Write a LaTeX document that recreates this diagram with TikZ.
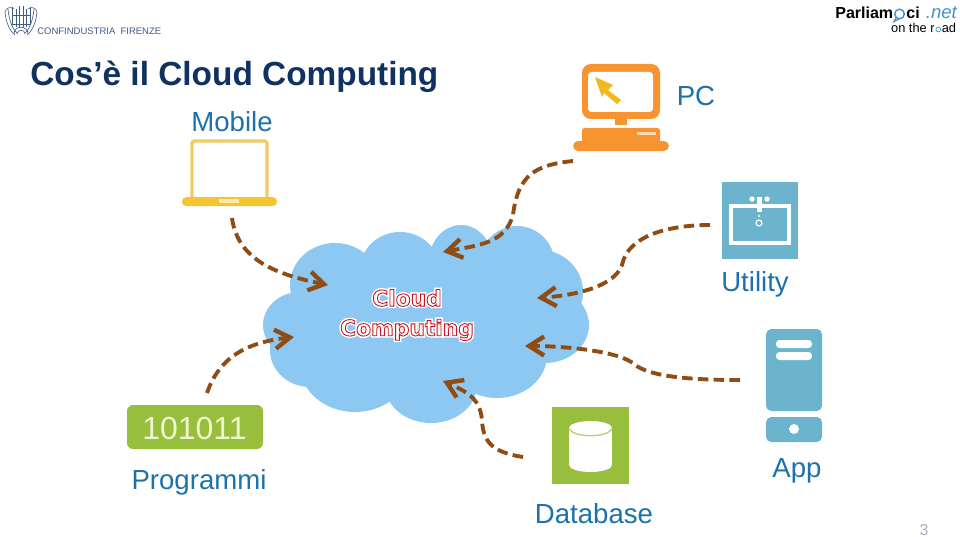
\documentclass[tikz,border=0pt]{standalone}
\usepackage{fontspec}
\setmainfont{Liberation Sans}
\usetikzlibrary{arrows.meta, positioning, calc}
\definecolor{navy}{HTML}{0F3263}
\definecolor{labelblue}{HTML}{1B72AC}
\definecolor{cloudblue}{HTML}{8DC8F2}
\definecolor{dkbrown}{HTML}{8F4C14}
\definecolor{mobileyellow}{HTML}{F0CC64}
\definecolor{baseyellow}{HTML}{F6C42E}
\definecolor{pcorange}{HTML}{F7942F}
\definecolor{cursoryellow}{HTML}{EFB91F}
\definecolor{iconblue}{HTML}{6CB4CE}
\definecolor{icongreen}{HTML}{98BE3E}
\definecolor{palegreen}{HTML}{EFF6CF}
\definecolor{pagegray}{HTML}{A3AFBF}
\definecolor{cloudred}{HTML}{C8141E}
\definecolor{bubbleblue}{HTML}{3F93C8}
\newcommand{\pxfont}[1]{\fontsize{#1}{#1}\selectfont}
\tikzset{
  itemlabel/.style={font=\pxfont{15.7pt}, text=labelblue, inner sep=0pt},
  linkarrow/.style={dkbrown, line width=2.2pt, dash pattern=on 6pt off 3pt,
    -{Straight Barb[length=3mm, width=3.8mm, line width=2.5pt]}},
  cloudtext/.style={font=\pxfont{12.4pt}\fontspec{DejaVu Sans}\bfseries, inner sep=0pt, align=center},
}

\begin{document}
\begin{tikzpicture}[x=0.02cm, y=-0.02cm]

% Page
\useasboundingbox (0,0) rectangle (960,537);
\fill[white] (0,0) rectangle (960,537);

% Cloud made of overlapping lobes
\foreach \cx/\cy/\rx/\ry in {
  335/285/45/42, 400/270/40/38, 461/262/32/37, 517/265/38/39,
  540/292/43/42, 545/325/44/38, 497/355/50/43, 431/385/46/38,
  355/365/55/47, 310/350/40/37, 300/325/37/33, 420/320/120/70}
  \fill[cloudblue] (\cx,\cy) ellipse [x radius=\rx, y radius=\ry];

% Cloud caption: white halo, then outlined letters
\node[cloudtext, text=white] (cloudhalo) at (407,315)
  {\special{pdf:code 2 Tr 2.2 w 1 1 1 RG}Cloud\\[4.5pt]Computing\special{pdf:code 0 Tr}};
\node[cloudtext, text=cloudred] (cloudcaption) at (407,315)
  {\special{pdf:code 1 Tr 0.5 w 0.78 0.08 0.12 RG}Cloud\\[4.5pt]Computing\special{pdf:code 0 Tr}};

% Mobile
\node[itemlabel] (mobilelabel) at (232,122) {Mobile};
\draw[mobileyellow, line width=1.9pt, rounded corners=1pt] (192,197) -- (192,141) -- (267,141) -- (267,197);
\fill[baseyellow, rounded corners=2.5pt] (182,197) rectangle (277,206);
\fill[baseyellow!35!white] (219,199) rectangle (239,203);

% PC
\node[itemlabel] (pclabel) at (696,96) {PC};
\fill[pcorange, rounded corners=5pt] (582,64) rectangle (660,119);
\fill[white, rounded corners=2pt] (588,72) rectangle (653,112);
\fill[pcorange] (615,119) rectangle (627,125);
\fill[pcorange, rounded corners=1.5pt] (582,128) rectangle (660,146);
\fill[pcorange, rounded corners=3pt] (573,141) rectangle (669,151);
\fill[pcorange!35!white] (637,132) rectangle (656,135);
\fill[cursoryellow] (595,77) -- (613,85) -- (608,90) -- (621,100) -- (617,104) -- (604,93) -- (602,97) -- cycle;

% Utility
\node[itemlabel] (utilitylabel) at (755,284) {Utility};
\fill[iconblue] (722,182) rectangle (798,259);
\draw[white, line width=2.4pt] (731,206) rectangle (789,243);
\fill[white] (756.5,197) rectangle (761.5,212);
\fill[white] (752,199) circle [radius=2.7];
\fill[white] (767,199) circle [radius=2.7];
\fill[white] (759,216) circle [radius=1.2];
\draw[white, line width=0.7pt] (759,223) circle [radius=3];

% App
\node[itemlabel] (applabel) at (797,471) {App};
\fill[iconblue, rounded corners=3pt] (766,411) -- (766,329) -- (822,329) -- (822,411) -- cycle;
\fill[iconblue, rounded corners=3pt] (766,417) -- (822,417) -- (822,442) -- (766,442) -- cycle;
\fill[white, rounded corners=2pt] (776,340) rectangle (812,348);
\fill[white, rounded corners=2pt] (776,352) rectangle (812,360);
\fill[white] (794,429) circle [radius=5];

% Database
\node[itemlabel] (databaselabel) at (594,514) {Database};
\fill[icongreen] (552,407) rectangle (629,484);
\fill[white] (569,428) rectangle (612,465);
\fill[white] (590.5,428) ellipse [x radius=21.5, y radius=7];
\fill[white] (590.5,465) ellipse [x radius=21.5, y radius=7];
\draw[icongreen!70!white, line width=0.8pt] (569,429) .. controls (575,438) and (606,438) .. (612,429);

% Programmi
\node[itemlabel] (programmilabel) at (199,482) {Programmi};
\fill[icongreen, rounded corners=3.5pt] (127,405) rectangle (263,449);
\node[font=\pxfont{18.2pt}, text=palegreen, inner sep=0pt] (binary) at (194.5,428) {101011};

% Connector ends
\coordinate (mobile) at (232,218);
\coordinate (pc) at (573,161);
\coordinate (utility) at (710,225);
\coordinate (app) at (740,380);
\coordinate (database) at (523,457);
\coordinate (programmi) at (207,393);
\coordinate (cloudmobile) at (328,285);
\coordinate (cloudpc) at (443,252);
\coordinate (cloudutility) at (537,298);
\coordinate (cloudapp) at (525,346);
\coordinate (clouddatabase) at (443,381);
\coordinate (cloudprogrammi) at (294,337);

% Links into the cloud
\draw[linkarrow] (mobile) .. controls (238,262) and (280,275) .. (cloudmobile);
\draw[linkarrow] (pc) .. controls (535,165) and (518,175) .. (513,215)
  .. controls (505,243) and (480,245) .. (cloudpc);
\draw[linkarrow] (utility) .. controls (670,225) and (628,235) .. (622,265)
  .. controls (615,285) and (580,295) .. (cloudutility);
\draw[linkarrow] (app) .. controls (700,380) and (650,378) .. (634,364)
  .. controls (620,352) and (570,346) .. (cloudapp);
\draw[linkarrow] (database) .. controls (490,452) and (483,440) .. (482,420)
  .. controls (480,400) and (470,393) .. (clouddatabase);
\draw[linkarrow] (programmi) .. controls (220,355) and (250,342) .. (cloudprogrammi);

% Title
\node[font=\pxfont{19pt}\bfseries, text=navy, anchor=base west, inner sep=0pt] (title) at (30,86)
  {Cos’è il Cloud Computing};

% Left logo
\begin{scope}[navy!80!white, line width=0.35pt]
  \foreach \sx in {-1,1} {
    \draw (21+\sx*16,12) .. controls (21+\sx*15,22) and (21+\sx*12,30) .. (21+\sx*6,35);
    \draw (21+\sx*13,9) .. controls (21+\sx*12,20) and (21+\sx*9,28) .. (21+\sx*4,33);
    \draw (21+\sx*9,7) -- (21+\sx*9,24);
    \draw (21+\sx*16,12) .. controls (21+\sx*15,8) and (21+\sx*11,6) .. (21+\sx*7,9);
    \draw (21+\sx*5,9) -- (21+\sx*5,27);
    \draw (21+\sx*2,6) -- (21+\sx*2,27);
  }
  \draw (12,15) -- (30,15);
  \draw (12,24) -- (30,24);
  \draw (14,34) .. controls (14,25) and (28,25) .. (28,34);
  \draw (17,34) .. controls (17,29) and (25,29) .. (25,34);
\end{scope}
\node[font=\pxfont{5.4pt}, text=navy!80!white, anchor=base west, inner sep=0pt] (confindustria) at (37,34.5)
  {CONFINDUSTRIA\ \ FIRENZE};

% Right logo
\node[font=\pxfont{9.1pt}\bfseries, text=black, anchor=base east, inner sep=0pt] (parliam) at (893.5,18.5) {Parliam};
\draw[bubbleblue, line width=0.8pt] (899.5,14) circle [radius=4.8];
\draw[bubbleblue, line width=0.7pt] (896,18) -- (894,21.5) -- (899,19);
\node[font=\pxfont{9.1pt}\bfseries, text=black, anchor=base west, inner sep=0pt] (ci) at (906,18.5) {ci};
\node[font=\pxfont{10.5pt}\itshape, text=bubbleblue, anchor=base east, inner sep=0pt] (net) at (957,18.5) {.net};
\node[font=\pxfont{7.3pt}, text=black, anchor=base east, inner sep=0pt] (ontheroad) at (935,33) {on the r};
\draw[bubbleblue, line width=0.4pt] (938.3,29.5) circle [radius=2.4];
\node[font=\pxfont{7.3pt}, text=black, anchor=base west, inner sep=0pt] (ad) at (941.5,33) {ad};

% Page number
\node[font=\pxfont{9pt}, text=pagegray, inner sep=0pt] (pagenumber) at (924,530) {3};

\end{tikzpicture}
\end{document}
